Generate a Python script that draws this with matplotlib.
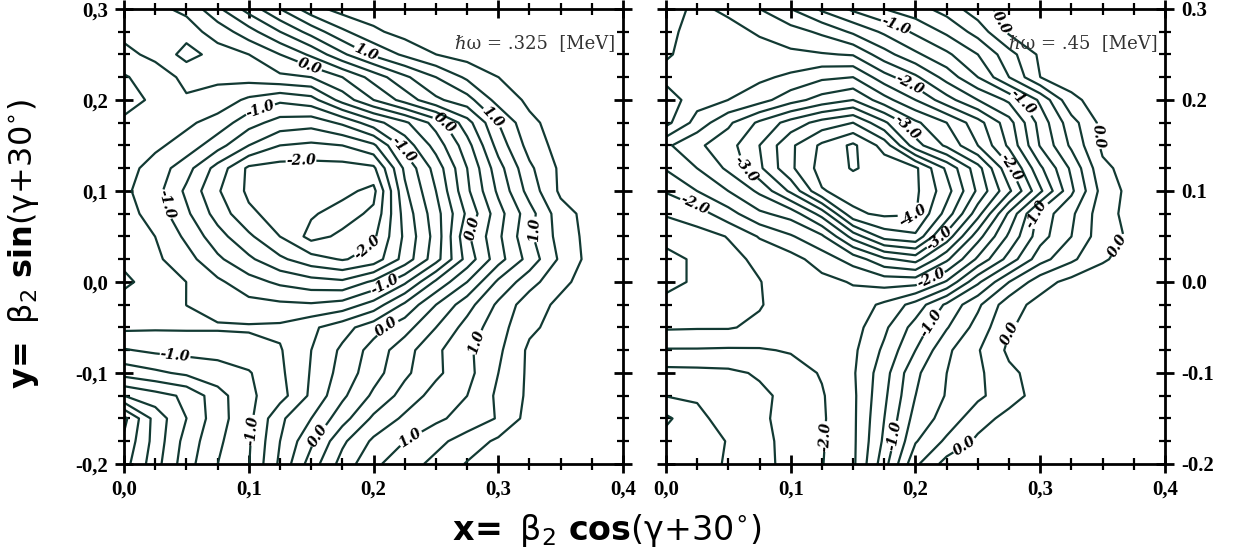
import numpy as np
import matplotlib
matplotlib.use("Agg")
import matplotlib.pyplot as plt
from matplotlib.ticker import MultipleLocator, FixedLocator, FixedFormatter

plt.rcParams["mathtext.fontset"] = "dejavusans"

# --- DATA: potential energy (MeV) ---
# grid columns: x = beta2 cos(gamma+30), rows: y = beta2 sin(gamma+30), top row first
x_vals = [0.0, 0.025, 0.05, 0.075, 0.1, 0.125, 0.15, 0.175, 0.2, 0.225,
          0.25, 0.275, 0.3, 0.325, 0.35, 0.375, 0.4]
y_vals = [0.3, 0.275, 0.25, 0.225, 0.2, 0.175, 0.15, 0.125, 0.1, 0.075, 0.05,
          0.025, 0.0, -0.025, -0.05, -0.075, -0.1, -0.125, -0.15, -0.175, -0.2]

# hbar omega = .325 MeV
energy_325 = [
    [-0.3, -0.3, -0.2, 0.2, 0.6, 1.0, 1.4, 1.6, 1.65, 1.7, 1.7, 1.7, 1.7, 1.7, 1.7, 1.7, 1.7],
    [-0.45, -0.4, -0.35, -0.15, 0.15, 0.5, 0.85, 1.2, 1.45, 1.6, 1.65, 1.7, 1.7, 1.7, 1.7, 1.7, 1.7],
    [-0.55, -0.45, -0.15, -0.35, -0.25, 0.0, 0.3, 0.7, 1.05, 1.3, 1.5, 1.6, 1.65, 1.7, 1.7, 1.7, 1.7],
    [-0.78, -0.6, -0.45, -0.45, -0.4, -0.3, -0.25, 0.0, 0.35, 0.7, 1.0, 1.3, 1.5, 1.6, 1.7, 1.7, 1.7],
    [-0.85, -0.7, -0.52, -0.6, -0.8, -0.95, -0.85, -0.4, 0.0, 0.35, 0.7, 0.9, 1.35, 1.55, 1.65, 1.7, 1.7],
    [-0.7, -0.7, -0.7, -0.85, -1.15, -1.35, -1.4, -1.2, -0.85, -0.55, -0.15, 0.4, 1.0, 1.45, 1.6, 1.65, 1.7],
    [-0.65, -0.7, -0.85, -1.15, -1.5, -1.75, -1.8, -1.75, -1.55, -0.9, -0.4, 0.15, 0.85, 1.35, 1.6, 1.65, 1.7],
    [-0.65, -0.85, -1.15, -1.6, -2.05, -2.1, -2.1, -2.1, -2.05, -1.2, -0.65, 0.0, 0.65, 1.2, 1.55, 1.65, 1.7],
    [-0.7, -0.9, -1.3, -1.72, -2.05, -2.12, -2.15, -2.18, -2.32, -1.3, -0.75, -0.05, 0.55, 1.1, 1.55, 1.65, 1.7],
    [-0.65, -0.85, -1.2, -1.6, -1.95, -2.1, -2.22, -2.35, -2.2, -1.4, -0.85, -0.2, 0.4, 0.9, 1.4, 1.6, 1.7],
    [-0.6, -0.75, -1.05, -1.4, -1.7, -2.0, -2.33, -2.2, -2.05, -1.45, -0.9, -0.05, 0.45, 0.95, 1.35, 1.6, 1.7],
    [-0.55, -0.7, -0.9, -1.2, -1.45, -1.7, -1.9, -2.02, -1.9, -1.4, -0.85, -0.15, 0.4, 0.85, 1.3, 1.6, 1.7],
    [-0.45, -0.6, -0.75, -0.95, -1.15, -1.3, -1.4, -1.45, -1.2, -0.8, -0.2, 0.25, 0.8, 1.15, 1.45, 1.6, 1.7],
    [-0.6, -0.65, -0.75, -0.85, -0.92, -0.95, -0.97, -0.9, -0.65, -0.2, 0.25, 0.65, 1.05, 1.4, 1.55, 1.65, 1.7],
    [-0.7, -0.72, -0.72, -0.72, -0.72, -0.7, -0.55, -0.35, -0.1, 0.15, 0.5, 0.85, 1.15, 1.45, 1.6, 1.65, 1.7],
    [-1.02, -0.95, -0.92, -0.92, -0.85, -0.77, -0.5, -0.2, 0.1, 0.4, 0.7, 0.95, 1.2, 1.55, 1.6, 1.65, 1.7],
    [-1.4, -1.3, -1.2, -1.1, -1.02, -0.8, -0.48, -0.15, 0.15, 0.45, 0.7, 0.92, 1.25, 1.55, 1.6, 1.65, 1.7],
    [-2.0, -1.85, -1.7, -1.35, -1.05, -0.85, -0.45, -0.05, 0.3, 0.6, 0.85, 1.0, 1.3, 1.55, 1.6, 1.65, 1.7],
    [-2.82, -2.15, -1.75, -1.35, -1.07, -0.55, -0.25, 0.15, 0.55, 0.8, 0.95, 1.1, 1.27, 1.6, 1.65, 1.65, 1.7],
    [-2.7, -2.15, -1.65, -1.3, -1.03, -0.5, -0.05, 0.45, 0.8, 1.0, 1.18, 1.36, 1.55, 1.62, 1.65, 1.67, 1.7],
    [-2.6, -2.1, -1.6, -1.25, -1.01, -0.45, 0.12, 0.6, 0.95, 1.14, 1.32, 1.52, 1.6, 1.63, 1.65, 1.67, 1.7],
]

# hbar omega = .45 MeV
energy_45 = [
    [-1.9, -2.05, -1.95, -1.75, -1.5, -1.2, -0.95, -0.75, -0.6, -0.4, -0.1, 0.1, 0.1, 0.1, 0.1, 0.1, 0.1],
    [-1.93, -2.1, -2.08, -1.97, -1.85, -1.7, -1.45, -1.2, -0.95, -0.7, -0.4, 0.05, 0.1, 0.1, 0.1, 0.1, 0.1],
    [-1.97, -2.1, -2.12, -2.1, -2.05, -2.02, -1.98, -1.6, -1.3, -1.05, -0.75, -0.35, 0.05, 0.1, 0.1, 0.1, 0.1],
    [-2.08, -2.12, -2.15, -2.2, -2.3, -2.45, -2.5, -2.1, -1.8, -1.4, -1.0, -0.5, 0.0, 0.1, 0.1, 0.1, 0.1],
    [-1.85, -2.15, -2.25, -2.4, -2.65, -2.85, -3.0, -2.6, -2.25, -1.85, -1.5, -1.2, -0.7, -0.05, 0.1, 0.1, 0.1],
    [-1.92, -2.35, -2.7, -3.05, -3.35, -3.6, -3.75, -3.3, -2.8, -2.5, -2.1, -1.6, -0.9, -0.35, 0.08, 0.1, 0.1],
    [-2.45, -2.7, -2.9, -3.25, -3.7, -4.05, -4.3, -3.9, -3.1, -2.7, -2.25, -1.7, -0.98, -0.45, 0.05, 0.1, 0.1],
    [-2.27, -2.5, -2.8, -3.2, -3.7, -4.1, -4.27, -4.15, -4.05, -3.45, -2.85, -2.05, -1.3, -0.7, -0.05, 0.1, 0.1],
    [-2.02, -2.25, -2.5, -2.8, -3.3, -3.98, -4.1, -4.1, -4.05, -3.6, -2.95, -2.3, -1.55, -0.8, -0.15, 0.1, 0.1],
    [-1.77, -1.88, -2.15, -2.45, -2.6, -3.1, -3.95, -4.05, -4.02, -3.4, -2.6, -1.7, -0.9, -0.55, -0.1, 0.1, 0.1],
    [-1.6, -1.65, -1.76, -2.02, -2.22, -2.45, -3.1, -3.6, -3.7, -2.9, -2.1, -1.45, -0.85, -0.5, -0.1, 0.05, 0.1],
    [-1.4, -1.55, -1.68, -1.8, -1.9, -2.12, -2.35, -2.7, -2.85, -2.3, -1.7, -1.15, -0.6, -0.3, -0.02, 0.08, 0.1],
    [-1.4, -1.55, -1.66, -1.74, -1.88, -1.92, -2.02, -2.1, -2.1, -1.72, -1.05, -0.5, -0.1, 0.08, 0.1, 0.1, 0.1],
    [-1.6, -1.65, -1.68, -1.73, -1.88, -1.92, -1.88, -1.7, -1.4, -0.95, -0.55, -0.1, 0.08, 0.1, 0.1, 0.1, 0.1],
    [-1.72, -1.73, -1.73, -1.8, -1.9, -1.92, -1.85, -1.55, -1.15, -0.77, -0.4, -0.02, 0.1, 0.1, 0.1, 0.1, 0.1],
    [-2.02, -2.02, -2.03, -2.02, -1.98, -1.9, -1.8, -1.45, -1.0, -0.55, -0.27, 0.05, 0.1, 0.1, 0.1, 0.1, 0.1],
    [-2.33, -2.32, -2.3, -2.22, -2.1, -1.98, -1.78, -1.35, -0.8, -0.5, -0.3, -0.05, 0.1, 0.1, 0.1, 0.1, 0.1],
    [-2.49, -2.47, -2.4, -2.3, -2.18, -2.02, -1.8, -1.3, -0.75, -0.48, -0.3, -0.1, 0.1, 0.1, 0.1, 0.1, 0.1],
    [-2.8, -2.56, -2.4, -2.3, -2.15, -2.03, -1.8, -1.25, -0.65, -0.4, -0.1, 0.08, 0.1, 0.1, 0.1, 0.1, 0.1],
    [-2.65, -2.58, -2.49, -2.32, -2.17, -2.02, -1.8, -1.2, -0.52, -0.2, 0.05, 0.1, 0.1, 0.1, 0.1, 0.1, 0.1],
    [-2.62, -2.57, -2.48, -2.33, -2.17, -2.01, -1.8, -1.1, -0.3, 0.1, 0.1, 0.1, 0.1, 0.1, 0.1, 0.1, 0.1],
]

panel_titles = ["\u210f\u03c9 = .325  [MeV]", "\u210f\u03c9 = .45  [MeV]"]
label_levels = [-4.0, -3.0, -2.0, -1.0, 0.0, 1.0]
x_tick_text = ["0,0", "0,1", "0,2", "0,3", "0,4"]
y_tick_text_left = ["-0,2", "-0,1", "0,0", "0,1", "0,2", "0,3"]
y_tick_text_right = ["-0.2", "-0.1", "0.0", "0.1", "0.2", "0.3"]

# where the contour values are printed in each panel (layout only)
label_spots_325 = [(0.195, 0.255), (0.149, 0.238), (0.109, 0.191), (0.142, 0.128),
                   (0.033, 0.085), (0.19, 0.05), (0.276, 0.06), (0.312, 0.06),
                   (0.299, 0.186), (0.221, 0.143), (0.259, 0.178), (0.209, -0.003),
                   (0.212, -0.053), (0.041, -0.08), (0.103, -0.163), (0.157, -0.17),
                   (0.229, -0.17), (0.284, -0.067)]
label_spots_45 = [(0.182, 0.275), (0.252, 0.273), (0.193, 0.211), (0.19, 0.167),
                  (0.286, 0.197), (0.273, 0.123), (0.34, 0.159), (0.065, 0.126),
                  (0.027, 0.098), (0.198, 0.076), (0.22, 0.046), (0.294, 0.076),
                  (0.356, 0.046), (0.214, -0.001), (0.209, -0.042), (0.273, -0.053),
                  (0.075, -0.166), (0.169, -0.166), (0.238, -0.177)]

# --- STYLE ---
LINE_COLOR = "#123a33"
STEP = 0.25
all_levels = np.arange(-4.5, 1.76, STEP)

fig = plt.figure(figsize=(12.33, 5.54), dpi=100)
ax_l = fig.add_axes([0.1006, 0.1625, 0.4047, 0.8213])
ax_r = fig.add_axes([0.5401, 0.1625, 0.4047, 0.8213])


def draw_panel(ax, energy, title, spots, right_labels):
    ax.set_xlim(0.0, 0.4)
    ax.set_ylim(-0.2, 0.3)
    X, Y = np.meshgrid(x_vals, y_vals)
    Z = np.array(energy)
    major = [lv + 0.001 for lv in label_levels if Z.min() <= lv + 0.001 <= Z.max()]
    minor = [lv + 0.001 for lv in all_levels
             if abs(lv - round(lv)) > 0.01 and Z.min() <= lv + 0.001 <= Z.max()]
    ax.contour(X, Y, Z, levels=minor, colors=LINE_COLOR, linewidths=1.6, linestyles="solid")
    cs = ax.contour(X, Y, Z, levels=major, colors=LINE_COLOR, linewidths=1.6, linestyles="solid")
    texts = ax.clabel(cs, fmt="%.1f", fontsize=10, inline=True, inline_spacing=2, manual=spots)
    for t in texts:
        t.set_fontweight("bold")
        t.set_fontfamily("DejaVu Serif")
        t.set_fontstyle("italic")
        t.set_color("black")

    ax.xaxis.set_major_locator(FixedLocator([0.0, 0.1, 0.2, 0.3, 0.4]))
    ax.xaxis.set_major_formatter(FixedFormatter(x_tick_text))
    ax.yaxis.set_major_locator(FixedLocator([-0.2, -0.1, 0.0, 0.1, 0.2, 0.3]))
    ax.yaxis.set_major_formatter(FixedFormatter(y_tick_text_right if right_labels else y_tick_text_left))
    ax.xaxis.set_minor_locator(MultipleLocator(0.025))
    ax.yaxis.set_minor_locator(MultipleLocator(0.025))
    ax.tick_params(which="both", direction="inout", top=True, bottom=True, left=True, right=True)
    ax.tick_params(which="major", length=13, width=2, pad=5)
    ax.tick_params(which="minor", length=8, width=1.6)
    if right_labels:
        ax.tick_params(labelleft=False, labelright=True)
    for lbl in ax.get_xticklabels() + ax.get_yticklabels():
        lbl.set_fontfamily("Liberation Serif")
        lbl.set_fontweight("bold")
        lbl.set_fontsize(15)
    for sp in ax.spines.values():
        sp.set_linewidth(2)
    ax.text(0.985, 0.925, title, transform=ax.transAxes, ha="right", va="center",
            fontsize=13, family="DejaVu Serif", color="#333333")


draw_panel(ax_l, energy_325, panel_titles[0], label_spots_325, False)
draw_panel(ax_r, energy_45, panel_titles[1], label_spots_45, True)

fig.text(0.019, 0.56, r"$\mathbf{y\!=}\ \mathrm{\beta}_{2}\ \mathbf{sin}(\mathrm{\gamma}{+}30^{\circ})$",
         rotation=90, ha="center", va="center", fontsize=23)
fig.text(0.492, 0.043, r"$\mathbf{x\!=}\ \mathrm{\beta}_{2}\ \mathbf{cos}(\mathrm{\gamma}{+}30^{\circ})$",
         ha="center", va="center", fontsize=24)

fig.savefig("out.png", dpi=100, facecolor="white")
